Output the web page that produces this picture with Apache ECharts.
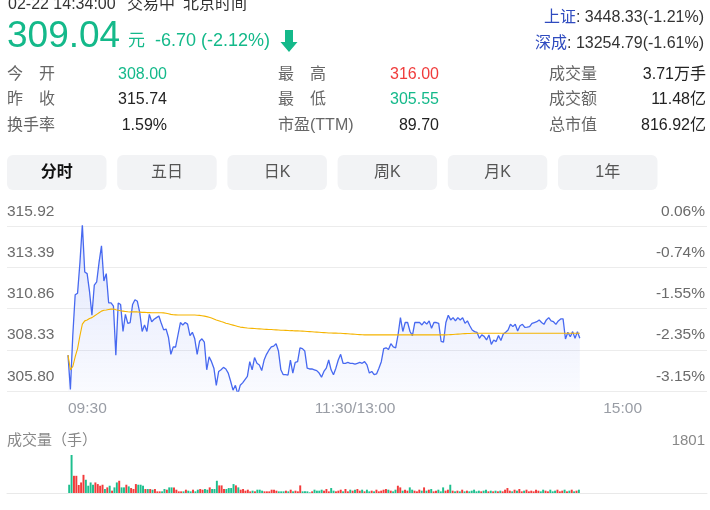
<!DOCTYPE html>
<html><head><meta charset="utf-8">
<script src="https://cdn.jsdelivr.net/npm/echarts@6/dist/echarts.min.js"></script>
<style>html,body{margin:0;padding:0;background:#fff;}#c{width:710px;height:510px;}</style>
</head><body><div id="c"></div>
<script>
// ---------- data ----------
const prevClose = 315.74;
const yMin = 305.80, yMax = 315.92, yStep = 2.53;
const volMax = 1801;
const axisTimeLabels = ['09:30', '11:30/13:00', '15:00'];
const headerLine = ['02-22 14:34:00', '交易中', '北京时间'];
const lastPrice = '309.04', priceUnit = '元', priceChange = '-6.70 (-2.12%)';
const indexNames = ['上证', '深成'];
const indexValues = [': 3448.33(-1.21%)', ': 13254.79(-1.61%)'];
const statLabels = [['今　开', '昨　收', '换手率'], ['最　高', '最　低', '市盈(TTM)'], ['成交量', '成交额', '总市值']];
const statValues = [['308.00', '315.74', '1.59%'], ['316.00', '305.55', '89.70'], ['3.71万手', '11.48亿', '816.92亿']];
const statColors = [['#14b98a', '#222', '#222'], ['#f03c3c', '#14b98a', '#222'], ['#222', '#222', '#222']];
const tabs = ['分时', '五日', '日K', '周K', '月K', '1年'];
const volTitle = '成交量（手）';

const prices = [
308.00,305.90,309.20,311.70,311.80,313.70,316.00,313.10,313.00,311.90,
310.45,312.30,312.50,313.70,314.70,312.55,313.00,311.20,311.20,311.00,
308.00,311.20,311.10,309.45,310.50,309.95,310.00,311.10,311.40,311.30,
310.60,309.45,309.85,309.45,310.50,310.05,310.20,310.30,310.40,309.95,
309.55,309.60,309.10,308.05,308.50,308.50,309.25,310.00,309.85,310.00,
309.90,309.20,309.40,309.00,308.05,308.85,309.00,308.80,307.10,307.90,
307.60,307.20,306.15,307.00,307.10,307.25,307.15,306.90,306.40,305.85,
306.15,305.60,306.15,306.30,306.50,306.70,307.60,307.10,307.85,307.50,
307.40,307.05,307.70,308.05,308.30,308.50,308.55,308.70,308.25,307.10,
306.80,306.80,306.78,307.70,306.90,307.55,307.60,308.45,308.40,308.25,
307.20,307.15,307.15,307.10,307.05,306.90,306.65,307.00,307.20,307.70,
307.10,306.80,307.20,307.70,308.05,307.50,307.50,307.55,307.50,307.50,
307.45,307.50,307.55,307.50,307.60,307.40,306.90,307.00,306.80,306.85,
307.20,307.60,308.40,308.45,308.35,308.70,308.50,308.45,309.25,310.30,
309.45,310.00,310.00,309.45,309.20,310.00,310.00,310.00,309.85,310.05,
309.90,310.10,309.65,310.00,310.00,309.95,308.85,308.80,310.00,310.45,
310.16,310.30,310.10,310.30,310.15,310.30,309.95,310.10,309.80,309.54,
309.44,309.40,309.03,309.24,309.15,308.93,309.24,308.66,308.93,308.83,
309.20,308.90,309.30,309.40,309.54,309.89,309.75,309.89,309.48,309.80,
309.89,309.70,309.72,309.75,309.95,310.00,310.05,310.16,310.00,309.89,
310.16,310.30,310.10,310.05,309.89,310.10,310.22,310.22,308.99,309.40,
309.13,309.44,309.03,309.44,309.04];

const avgPrices = [
308.00,307.10,307.30,307.90,308.40,309.20,309.90,310.10,310.15,310.25,
310.30,310.40,310.50,310.60,310.70,310.75,310.77,310.80,310.82,310.83,
310.78,310.75,310.72,310.70,310.68,310.66,310.65,310.65,310.65,310.65,
310.64,310.62,310.62,310.61,310.61,310.60,310.60,310.60,310.60,310.60,
310.59,310.57,310.54,310.50,310.48,310.47,310.46,310.46,310.46,310.46,
310.46,310.46,310.46,310.46,310.45,310.44,310.42,310.39,310.36,310.32,
310.28,310.22,310.16,310.11,310.06,310.02,309.96,309.92,309.88,309.84,
309.80,309.76,309.72,309.70,309.68,309.66,309.65,309.64,309.63,309.62,
309.61,309.60,309.59,309.58,309.57,309.57,309.56,309.55,309.54,309.53,
309.53,309.52,309.51,309.50,309.50,309.49,309.49,309.48,309.47,309.46,
309.45,309.44,309.43,309.42,309.41,309.40,309.39,309.38,309.37,309.36,
309.36,309.35,309.35,309.34,309.34,309.33,309.32,309.31,309.30,309.29,
309.28,309.27,309.26,309.25,309.24,309.24,309.24,309.24,309.24,309.24,
309.24,309.24,309.24,309.24,309.24,309.24,309.24,309.24,309.24,309.24,
309.24,309.24,309.24,309.24,309.24,309.24,309.24,309.24,309.24,309.24,
309.24,309.24,309.24,309.24,309.24,309.24,309.24,309.24,309.24,309.25,
309.26,309.27,309.28,309.29,309.30,309.31,309.32,309.33,309.33,309.34,
309.34,309.34,309.34,309.34,309.34,309.34,309.34,309.34,309.34,309.34,
309.34,309.34,309.34,309.34,309.34,309.34,309.34,309.34,309.34,309.34,
309.34,309.34,309.34,309.34,309.34,309.34,309.34,309.34,309.34,309.34,
309.34,309.34,309.34,309.34,309.34,309.34,309.34,309.34,309.34,309.34,
309.34,309.34,309.34,309.34,309.34];

const volumes = [
392,1801,815,815,380,500,860,627,345,500,
392,500,423,345,392,188,266,345,110,266,
500,580,266,266,392,313,235,188,423,392,
392,345,188,188,188,157,188,78,78,78,
188,157,266,266,266,157,78,78,78,157,
110,78,157,78,157,188,157,188,157,266,
188,188,580,360,360,188,188,235,235,423,
360,266,157,188,110,157,78,110,78,157,
157,110,78,78,78,157,157,110,78,78,
78,110,78,157,78,110,78,360,78,78,
78,30,78,157,110,110,157,110,188,78,
235,110,78,110,157,78,188,78,157,110,
157,188,110,157,78,157,78,110,78,157,
78,110,157,188,157,110,78,157,345,266,
110,157,110,266,157,110,78,157,110,266,
110,157,188,78,110,157,78,266,110,157,
392,110,78,110,78,157,78,110,78,110,
157,78,110,78,110,157,78,110,78,110,
78,110,78,157,235,110,78,157,110,188,
78,110,157,78,110,78,157,110,78,157,
110,78,157,78,110,157,78,110,157,78,
110,157,78,110,157];

// ---------- helpers ----------
const FONT = '"Liberation Sans", Arial, "Noto Sans CJK SC", sans-serif';
const TEAL = '#14b98a';
const VOL_UP = '#f23b3b', VOL_DN = '#1ebf8e';
function pad(n){return (n<10?'0':'')+n;}
function fmt(t){return pad(Math.floor(t/60))+':'+pad(t%60);}
const times = [];
for (let m = 0; m <= 120; m++) times.push(fmt(9*60+30+m));
for (let m = 1; m <= 120; m++) times.push(fmt(13*60+m));
const labelAt = {0: 0, 120: 1, 240: 2};

const volData = volumes.map((v, i) => {
  const prev = i === 0 ? prevClose : prices[i-1];
  return {value: v, itemStyle: {color: prices[i] >= prev ? VOL_UP : VOL_DN}};
});

function txt(x, y, text, size, fill, align, weight){
  return {type:'text', x:x, y:y, silent:true, style:{text:text, fontSize:size, fontFamily:FONT, fontWeight:weight||'normal', fill:fill, align:align||'left', verticalAlign:'middle'}};
}
const graphics = [];
graphics.push(txt(8, 5, headerLine[0], 16, '#333'));
graphics.push(txt(127, 5, headerLine[1], 16, '#333'));
graphics.push(txt(183, 5, headerLine[2], 16, '#333'));
graphics.push(txt(7, 37, lastPrice, 37, TEAL));
graphics.push(txt(128, 41, priceUnit, 17, TEAL));
graphics.push(txt(155, 41, priceChange, 18, TEAL));
graphics.push({type:'polygon', silent:true, shape:{points:[[285,30],[293,30],[293,42],[297.5,42],[289,52],[280.5,42],[285,42]]}, style:{fill:TEAL}});
[18, 44].forEach((y, k) => {
  graphics.push({type:'text', x:704, y:y, silent:true, style:{
    text:'{a|'+indexNames[k]+'}{b|'+indexValues[k]+'}', align:'right', verticalAlign:'middle',
    rich:{a:{fontSize:16, fontFamily:FONT, fill:'#2f4bbf', color:'#2f4bbf'}, b:{fontSize:16, fontFamily:FONT, fill:'#333', color:'#333'}}
  }});
});
const labX = [7, 278, 549], valX = [167, 439, 706], rowY = [75, 100, 126];
for (let c = 0; c < 3; c++) for (let r = 0; r < 3; r++) {
  graphics.push(txt(labX[c], rowY[r], statLabels[c][r], 16, '#666'));
  graphics.push(txt(valX[c], rowY[r], statValues[c][r], 16, statColors[c][r], 'right'));
}
tabs.forEach((t, k) => {
  const x0 = 7 + k * 110.2;
  graphics.push({type:'rect', silent:true, shape:{x:x0, y:155, width:99.5, height:35, r:6}, style:{fill:'#f2f3f5'}});
  graphics.push(txt(x0 + 49.75, 172.5, t, 16, k === 0 ? '#111' : '#555', 'center', k === 0 ? 'bold' : 'normal'));
});
graphics.push(txt(7, 441, volTitle, 15, '#888'));

const chart = echarts.init(document.getElementById('c'));
const grid = [
  {left:7, right:3, top:226, height:165},
  {left:68, right:68, top:226, height:165},
  {left:7, right:3, top:455, height:38},
  {left:68, right:68, top:455, height:38}
];
const yLabelBase = {inside:true, margin:0, verticalAlign:'bottom', padding:[0,0,7,0], color:'#6b6b6b', fontSize:15.5, fontFamily:FONT};
chart.setOption({
  animation:false,
  textStyle:{fontFamily:FONT},
  grid:grid,
  xAxis:[
    {gridIndex:0, type:'value', show:false, min:0, max:1},
    {gridIndex:1, type:'category', data:times, boundaryGap:false,
      axisLine:{show:false}, axisTick:{show:false}, splitLine:{show:false},
      axisLabel:{interval:(i)=>labelAt[i]!==undefined, formatter:(v,i)=>axisTimeLabels[labelAt[i]],
        color:'#999da5', fontSize:15.5, fontFamily:FONT, margin:10, alignMinLabel:'left', alignMaxLabel:'right', showMinLabel:true, showMaxLabel:true}},
    {gridIndex:2, type:'value', min:0, max:1, position:'bottom',
      axisLine:{show:true, lineStyle:{color:'#e9e9e9', width:1}}, axisTick:{show:false}, axisLabel:{show:false}, splitLine:{show:false}},
    {gridIndex:3, type:'category', data:times, show:false, boundaryGap:true}
  ],
  yAxis:[
    {gridIndex:0, type:'value', position:'left', min:yMin, max:yMax, interval:yStep,
      axisLine:{show:false}, axisTick:{show:false}, splitLine:{show:true, lineStyle:{color:'#ececec', width:1}},
      axisLabel:Object.assign({}, yLabelBase, {align:'left', formatter:(v)=>v.toFixed(2)})},
    {gridIndex:0, type:'value', position:'right', min:yMin, max:yMax, interval:yStep,
      axisLine:{show:false}, axisTick:{show:false}, splitLine:{show:false},
      axisLabel:Object.assign({}, yLabelBase, {align:'right', margin:2, formatter:(v)=>((v-prevClose)/prevClose*100).toFixed(2)+'%'})},
    {gridIndex:1, type:'value', min:yMin, max:yMax, show:false},
    {gridIndex:2, type:'value', position:'right', min:0, max:volMax, interval:volMax,
      axisLine:{show:false}, axisTick:{show:false}, splitLine:{show:false},
      axisLabel:{inside:true, margin:2, align:'right', verticalAlign:'bottom', padding:[0,0,7,0], showMinLabel:false, color:'#888', fontSize:15, fontFamily:FONT, formatter:(v)=>String(Math.round(v))}},
    {gridIndex:3, type:'value', min:0, max:volMax, show:false}
  ],
  series:[
    {type:'line', xAxisIndex:1, yAxisIndex:2, data:prices, showSymbol:false, symbol:'none',
      lineStyle:{color:'#4769f0', width:1.3},
      areaStyle:{color:new echarts.graphic.LinearGradient(0,0,0,1,[{offset:0,color:'rgba(71,105,240,0.24)'},{offset:1,color:'rgba(71,105,240,0.04)'}])},
      z:2},
    {type:'line', xAxisIndex:1, yAxisIndex:2, data:avgPrices, showSymbol:false, symbol:'none',
      lineStyle:{color:'#f5b400', width:1.1}, z:3},
    {type:'bar', xAxisIndex:3, yAxisIndex:4, data:volData, barCategoryGap:'18%'}
  ],
  graphic:graphics
});
</script></body></html>
